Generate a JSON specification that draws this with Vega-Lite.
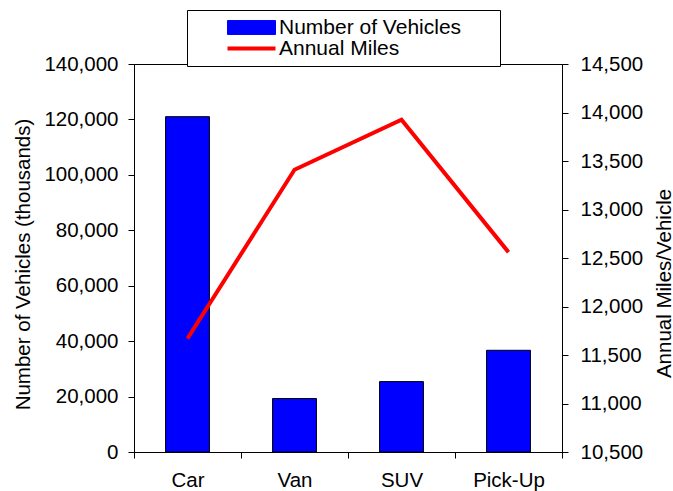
{
  "$schema": "https://vega.github.io/schema/vega-lite/v6.json",
  "autosize": {"type": "none"},
  "padding": {"left": 134, "top": 64, "right": 111, "bottom": 39},
  "width": 428,
  "height": 388,
  "background": "white",
  "data": {"values": [
    {"type": "Car", "vehicles": 121000, "miles": 11670},
    {"type": "Van", "vehicles": 19300, "miles": 13410},
    {"type": "SUV", "vehicles": 25400, "miles": 13925},
    {"type": "Pick-Up", "vehicles": 36700, "miles": 12560}
  ]},
  "config": {
    "view": {"stroke": "#000000", "strokeWidth": 1},
    "font": "Liberation Sans",
    "axis": {
      "labelFont": "Liberation Sans", "labelFontSize": 20.5, "labelColor": "#000000",
      "titleFont": "Liberation Sans", "titleFontSize": 20.5, "titleColor": "#000000", "titleFontWeight": "normal",
      "domainColor": "#000000", "tickColor": "#000000", "grid": false
    },
    "legend": {"labelFont": "Liberation Sans", "labelFontSize": 21, "labelColor": "#000000", "labelLimit": 500}
  },
  "encoding": {
    "x": {
      "field": "type", "type": "nominal", "sort": null,
      "scale": {"paddingInner": 0, "paddingOuter": 0},
      "axis": {
        "title": null, "labelAngle": 0, "tickBand": "extent", "tickSize": 6, "labelPadding": 12,
        "encode": {"ticks": {"update": {"y": {"value": -7}}}}
      }
    }
  },
  "layer": [
    {
      "mark": {"type": "bar", "stroke": "#000000", "strokeWidth": 1, "width": {"band": 0.41}},
      "encoding": {
        "y": {
          "field": "vehicles", "type": "quantitative",
          "scale": {"domain": [0, 140000], "nice": false},
          "axis": {
            "title": "Number of Vehicles (thousands)", "orient": "left",
            "values": [0, 20000, 40000, 60000, 80000, 100000, 120000, 140000],
            "format": ",.0f", "tickSize": 6, "labelPadding": 10,
            "titleAngle": -90, "titleBaseline": "alphabetic", "titleAlign": "center",
            "titleX": -105, "titleY": 200,
            "encode": {"ticks": {"update": {"x": {"value": 7}}}}
          }
        },
        "color": {
          "datum": "Number of Vehicles",
          "scale": {"domain": ["Number of Vehicles", "Annual Miles"], "range": ["#0000FF", "#FF0000"]},
          "legend": {
            "title": null, "orient": "none", "legendX": 53, "legendY": -54,
            "direction": "vertical",
            "strokeColor": "#000000", "fillColor": "#ffffff", "padding": 7,
            "rowPadding": -2, "symbolOffset": 47, "labelOffset": 17, "labelLimit": 500,
            "symbolSize": 2304,
            "encode": {"symbols": {"update": {
              "shape": {"signal": "datum.value === 'Annual Miles' ? 'M-1,0H1' : 'M-1,-0.29H1V0.29H-1Z M9.95,0'"},
              "fill": {"signal": "datum.value === 'Annual Miles' ? 'transparent' : '#0000FF'"},
              "stroke": {"signal": "datum.value === 'Annual Miles' ? '#FF0000' : '#000000'"},
              "strokeWidth": {"signal": "datum.value === 'Annual Miles' ? 4 : 1"},
              "opacity": {"value": 1},
              "size": {"value": 2304}
            }}}
          }
        }
      }
    },
    {
      "mark": {"type": "line", "strokeWidth": 4},
      "encoding": {
        "y": {
          "field": "miles", "type": "quantitative",
          "scale": {"domain": [10500, 14500], "nice": false},
          "axis": {
            "title": "Annual Miles/Vehicle", "orient": "right",
            "values": [10500, 11000, 11500, 12000, 12500, 13000, 13500, 14000, 14500],
            "format": ",.0f", "tickSize": 6, "labelPadding": 12,
            "titleAngle": -90, "titleBaseline": "alphabetic", "titleAlign": "center",
            "titleX": 108, "titleY": 219,
            "encode": {"ticks": {"update": {"x": {"value": -7}}}}
          }
        },
        "color": {
          "datum": "Annual Miles",
          "legend": {
            "title": null, "orient": "none", "legendX": 53, "legendY": -54,
            "direction": "vertical",
            "strokeColor": "#000000", "fillColor": "#ffffff", "padding": 7,
            "rowPadding": -2, "symbolOffset": 47, "labelOffset": 17, "labelLimit": 500,
            "symbolSize": 2304,
            "encode": {"symbols": {"update": {
              "shape": {"signal": "datum.value === 'Annual Miles' ? 'M-1,0H1' : 'M-1,-0.29H1V0.29H-1Z M9.95,0'"},
              "fill": {"signal": "datum.value === 'Annual Miles' ? 'transparent' : '#0000FF'"},
              "stroke": {"signal": "datum.value === 'Annual Miles' ? '#FF0000' : '#000000'"},
              "strokeWidth": {"signal": "datum.value === 'Annual Miles' ? 4 : 1"},
              "opacity": {"value": 1},
              "size": {"value": 2304}
            }}}
          }
        }
      }
    }
  ],
  "resolve": {"scale": {"y": "independent"}}
}
